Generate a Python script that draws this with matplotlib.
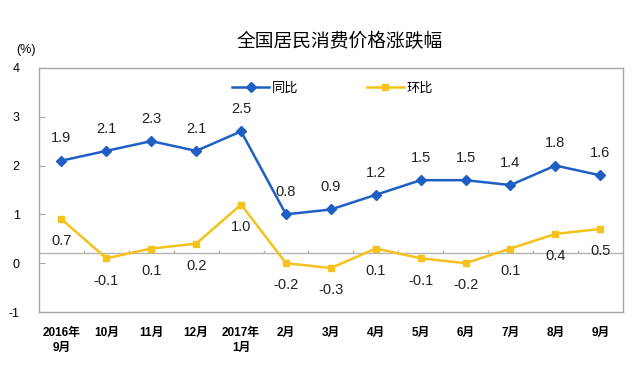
import numpy as np
import matplotlib.pyplot as plt

plt.rcParams['font.family'] = ['Liberation Sans', 'Noto Sans CJK SC', 'DejaVu Sans']

# %% data
months = ['2016年\n9月', '10月', '11月', '12月', '2017年\n1月', '2月', '3月',
          '4月', '5月', '6月', '7月', '8月', '9月']
tongbi = [1.9, 2.1, 2.3, 2.1, 2.5, 0.8, 0.9, 1.2, 1.5, 1.5, 1.4, 1.8, 1.6]
huanbi = [0.7, -0.1, 0.1, 0.2, 1.0, -0.2, -0.3, 0.1, -0.1, -0.2, 0.1, 0.4, 0.5]
ytick_labels = [-1, 0, 1, 2, 3, 4]

blue = '#1f5fc4'
yellow = '#f5c21b'
grey = '#a6a6a6'

# %% plot
fig = plt.figure(figsize=(6.4, 3.71), dpi=100)
ax = fig.add_axes([0.061, 0.159, 0.912, 0.658])
x = np.arange(len(months))

ax.axhline(0, color='#b4b4b4', lw=1, zorder=1)
ax.vlines(x[:-1] + 0.5, 0, 0.07, color='#b4b4b4', lw=1, zorder=1)

ax.plot(x, tongbi, color=blue, lw=1.8, marker='D', ms=5, label='同比', zorder=3)
ax.plot(x, huanbi, color=yellow, lw=1.8, marker='s', ms=5, label='环比', zorder=3)

for i, v in enumerate(tongbi):
    ax.annotate(f'{v:.1f}', (i, v), xytext=(0, 16), textcoords='offset points',
                ha='center', va='center', fontsize=10.5, color='#222222')
for i, v in enumerate(huanbi):
    ax.annotate(f'{v:.1f}', (i, v), xytext=(0, -16), textcoords='offset points',
                ha='center', va='center', fontsize=10.5, color='#222222')

# the source's y labels sit 0.2 below the zero line
offset = 0.2
ax.set_ylim(-1 - offset, 4 - offset)
ax.set_yticks(np.array(ytick_labels) - offset)
ax.set_yticklabels([str(t) for t in ytick_labels], fontsize=9)
ax.set_xlim(-0.5, len(months) - 0.5)
ax.set_xticks(x)
ax.set_xticklabels(months, fontsize=8.5, fontweight='bold', linespacing=1.3)
ax.tick_params(axis='x', length=0, pad=11)
ax.tick_params(axis='y', length=4, direction='in', color=grey, pad=14)

for s in ax.spines.values():
    s.set_color(grey)
    s.set_linewidth(1)

ax.legend(loc='center', bbox_to_anchor=(0.503, 0.914), ncol=2, frameon=False,
          fontsize=9.5, handlelength=2.8, handletextpad=0.2, columnspacing=5.2)

fig.text(0.53, 0.887, '全国居民消费价格涨跌幅', ha='center', va='center', fontsize=13.5)
fig.text(0.04, 0.865, '(%)', ha='center', va='center', fontsize=9)

plt.savefig('out.png', dpi=100)
